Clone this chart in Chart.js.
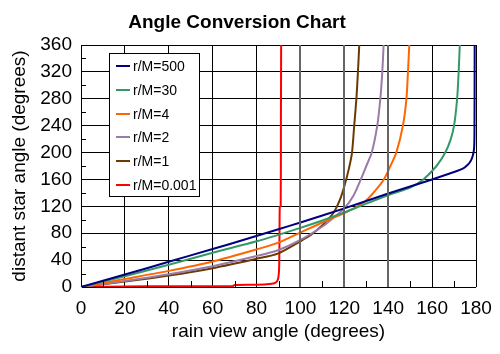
<!DOCTYPE html>
<html>
<head>
<meta charset="utf-8">
<script src="https://cdn.jsdelivr.net/npm/chart.js@4/dist/chart.umd.min.js"></script>
<style>
  html, body { margin: 0; padding: 0; background: #fff; }
  #wrap { width: 500px; height: 354px; }
</style>
</head>
<body>
<div id="wrap"><canvas id="myChart" width="500" height="354"></canvas></div>
<script>
// rain view angle (x) and distant star angle (y) for each r/M
const labels = ['r/M=500', 'r/M=30', 'r/M=4', 'r/M=2', 'r/M=1', 'r/M=0.001'];
const colors = ['#000080', '#339966', '#ff6600', '#9a7aa8', '#6b3a00', '#ff0000'];

const rm500X = [0, 20, 40, 60, 75, 90, 100, 120, 140, 160, 170, 174, 176, 177.5, 178.5, 179.1, 179.3, 179.4];
const rm500Y = [0, 18.5, 37.5, 56.5, 71, 86, 96, 117, 139, 160, 171, 176, 181, 187, 195, 205, 230, 360];

const rm30X = [0, 20, 40, 60, 80, 100, 110, 120, 130, 142, 150, 156, 162, 166, 168.5, 170, 171.4, 172.1, 172.6];
const rm30Y = [0, 16, 33, 51, 68, 88, 99, 111, 124, 139, 148, 160, 180, 200, 220, 240, 280, 320, 360];

const rm4X = [0, 20, 40, 60, 80, 90, 100, 110, 120, 125, 130, 134, 138, 141, 143.7, 146.7, 148.3, 149, 149.6];
const rm4Y = [0, 12, 24, 38, 56, 66, 81, 96, 110, 118, 129, 143, 160, 180, 200, 240, 280, 320, 360];

const rm2X = [0, 20, 40, 60, 80, 90, 100, 110, 115, 120, 124, 127.5, 130, 132.5, 135, 136.4, 137.3, 137.9];
const rm2Y = [0, 9, 19, 31, 46, 55, 70, 90, 103, 117, 135, 160, 180, 200, 240, 280, 320, 360];

const rm1X = [0, 20, 40, 60, 80, 90, 100, 105, 110, 115, 118, 120, 122, 123.5, 124.5, 125.5, 126.2, 126.8];
const rm1Y = [0, 8, 17, 28, 42, 50, 68, 78, 92, 110, 130, 150, 175, 200, 240, 280, 320, 360];

const rm0001X = [0, 10, 30, 50, 69, 70, 80, 86, 88.5, 89.8, 90.3, 90.5, 90.6, 91, 91.1, 91.2];
const rm0001Y = [0, 0.5, 1, 1, 1.2, 3, 3.5, 4.5, 6, 12, 30, 100, 119, 121, 240, 360];

const xTicks = [0, 20, 40, 60, 80, 100, 120, 140, 160, 180];
const yTicks = [0, 40, 80, 120, 160, 200, 240, 280, 320, 360];
const xMinor = [10, 30, 50, 70, 90, 110, 130, 150, 170];
const yMinor = [20, 60, 100, 140, 180, 220, 260, 300, 340];
const grayGrid = [100, 120, 140];

const series = [
  [rm500X, rm500Y], [rm30X, rm30Y], [rm4X, rm4Y],
  [rm2X, rm2Y], [rm1X, rm1Y], [rm0001X, rm0001Y]
];

const FONT = "'Liberation Sans', Arial, sans-serif";

function toPoints(xs, ys) {
  return xs.map((x, i) => ({ x: x, y: ys[i] }));
}

// extras (title, legend box, minor ticks, darker grid lines) painted with fillRect/fillText only
const decorations = {
  id: 'decorations',
  afterDraw(chart) {
    const c = chart.ctx;
    const area = chart.chartArea;
    const sx = chart.scales.x;
    const sy = chart.scales.y;
    c.save();

    c.fillStyle = '#666';
    grayGrid.forEach(v => {
      const x = Math.round(sx.getPixelForValue(v));
      c.fillRect(x - 1, area.top, 2, area.bottom - area.top);
    });

    c.fillStyle = '#000';
    yMinor.forEach(v => {
      const y = Math.round(sy.getPixelForValue(v));
      c.fillRect(area.left, y, 5, 1);
    });
    xMinor.forEach(v => {
      const x = Math.round(sx.getPixelForValue(v));
      c.fillRect(x, area.bottom - 6, 1, 6);
    });

    const left = 109, top = 53, w = 91, h = 144;
    c.fillStyle = '#000';
    c.fillRect(left, top, w, h);
    c.fillStyle = '#fff';
    c.fillRect(left + 1, top + 1, w - 2, h - 2);
    c.font = '14px ' + FONT;
    c.textBaseline = 'middle';
    c.textAlign = 'left';
    chart.data.datasets.forEach((ds, i) => {
      const y = Math.round(66 + i * 23.8);
      c.fillStyle = ds.borderColor;
      c.fillRect(116, y - 1, 14, 2);
      c.fillStyle = '#000';
      c.fillText(ds.label, 133, y + 1);
    });

    c.font = 'bold 19px ' + FONT;
    c.fillStyle = '#000';
    c.textAlign = 'center';
    c.textBaseline = 'alphabetic';
    c.fillText('Angle Conversion Chart', 237, 28);
    c.restore();
  }
};

new Chart(document.getElementById('myChart').getContext('2d'), {
  type: 'line',
  data: {
    datasets: series.map((s, i) => ({
      label: labels[i],
      data: toPoints(s[0], s[1]),
      borderColor: colors[i],
      backgroundColor: colors[i],
      borderWidth: 2,
      pointRadius: 0,
      tension: 0.25,
      fill: false
    }))
  },
  options: {
    responsive: false,
    animation: false,
    layout: { padding: { top: 45, right: 24, left: 0, bottom: 0 } },
    plugins: { legend: { display: false }, tooltip: { enabled: false } },
    scales: {
      x: {
        type: 'linear',
        min: 0,
        max: 180,
        afterBuildTicks: scale => { scale.ticks = xTicks.map(v => ({ value: v })); },
        afterFit: scale => { scale.height = 67; scale.paddingRight = 0; },
        grid: { color: '#000', drawTicks: false },
        ticks: { color: '#000', padding: 10, maxRotation: 0, font: { family: FONT, size: 19 } },
        title: {
          display: true,
          text: 'rain view angle (degrees)',
          color: '#000',
          font: { family: FONT, size: 19 },
          padding: { top: 0, bottom: 11 }
        }
      },
      y: {
        type: 'linear',
        min: 0,
        max: 360,
        afterBuildTicks: scale => { scale.ticks = yTicks.map(v => ({ value: v })); },
        afterFit: scale => { scale.width = 81; },
        grid: { color: '#000', drawTicks: false },
        ticks: { color: '#000', padding: 9, font: { family: FONT, size: 19 } },
        title: {
          display: true,
          text: 'distant star angle (degrees)',
          color: '#000',
          font: { family: FONT, size: 19 },
          padding: { top: 8, bottom: 0 }
        }
      }
    }
  },
  plugins: [decorations]
});
</script>
</body>
</html>
